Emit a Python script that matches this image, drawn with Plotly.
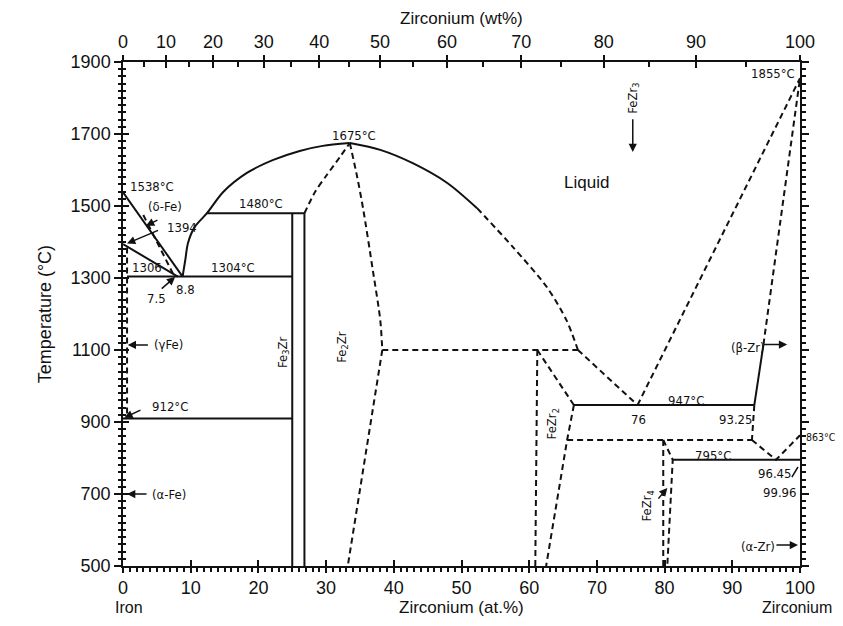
import plotly.graph_objects as go

# ---------------- data (at.% Zr, temperature °C) ----------------
fe_liq_x = [0, 8.8]
fe_liq_t = [1538, 1304]
delta_sol_x = [3.0, 7.6]
delta_sol_t = [1475, 1304]
delta_gamma_x = [0, 8.1]
delta_gamma_t = [1394, 1304]
gamma_x = [0.6, 0.6]
gamma_t = [1385, 912]

liq_left_x = [8.8, 9.2, 9.6, 10.6, 12.4, 14.8, 18.3, 22.2, 26.1, 29.5, 33.5]
liq_left_t = [1304, 1350, 1397, 1442, 1480, 1539, 1592, 1628, 1653, 1667, 1675]
liq_right_x = [33.5, 38.0, 42.8, 47.9, 52.3]
liq_right_t = [1675, 1656, 1619, 1564, 1494]
liq_right_d_x = [52.3, 57.6, 62.6, 65.5, 67.2]
liq_right_d_t = [1494, 1386, 1275, 1183, 1100]
liq_to_eut_x = [67.2, 76]
liq_to_eut_t = [1100, 947]
liq_zr_x = [76, 100]
liq_zr_t = [947, 1855]

iso_1480_x = [12.4, 26.8]
iso_1480_t = [1480, 1480]
iso_1304_x = [0.6, 25.0]
iso_1304_t = [1304, 1304]
iso_912_x = [0, 25.0]
iso_912_t = [910, 910]
fe3zr_a_x = [25.0, 25.0]
fe3zr_a_t = [1480, 500]
fe3zr_b_x = [26.8, 26.8]
fe3zr_b_t = [1480, 500]

fe2zr_left_x = [26.8, 28.4, 30.1, 32.0, 33.5]
fe2zr_left_t = [1480, 1540, 1586, 1635, 1675]
fe2zr_right_x = [33.5, 34.6, 35.5, 36.9, 38.0, 38.3]
fe2zr_right_t = [1675, 1580, 1489, 1322, 1183, 1100]
fe2zr_low_x = [38.3, 33.2]
fe2zr_low_t = [1100, 500]
iso_1100_x = [38.3, 67.2]
iso_1100_t = [1100, 1100]

fezr2_a_x = [61.2, 60.9]
fezr2_a_t = [1100, 500]
fezr2_b_x = [61.2, 66.6]
fezr2_b_t = [1100, 947]
fezr2_c_x = [66.6, 65.6, 62.5]
fezr2_c_t = [947, 850, 500]
iso_947_x = [66.6, 93.25]
iso_947_t = [947, 947]
bzr_solid_x = [93.25, 94.6]
bzr_solid_t = [947, 1115]
bzr_dash_x = [94.6, 100]
bzr_dash_t = [1115, 1855]
bzr_low_x = [93.25, 92.9]
bzr_low_t = [947, 850]
iso_850_x = [65.6, 92.9]
iso_850_t = [850, 850]
eutectoid_x = [92.9, 96.45, 100]
eutectoid_t = [850, 795, 863]
iso_795_x = [81.2, 100]
iso_795_t = [795, 795]
fezr4_a_x = [79.8, 79.8]
fezr4_a_t = [850, 500]
fezr4_b_x = [79.8, 81.2, 80.4]
fezr4_b_t = [850, 795, 500]
slash_x = [98.8, 99.7]
slash_t = [747, 775]

# axis ticks
temp_ticks = [500, 700, 900, 1100, 1300, 1500, 1700, 1900]
at_ticks = [0, 10, 20, 30, 40, 50, 60, 70, 80, 90, 100]
wt_labels = ["0", "10", "20", "30", "40", "50", "60", "70", "80", "90", "100"]
wt_pos = [0, 6.37, 13.28, 20.79, 28.99, 37.98, 47.87, 58.82, 71.0, 84.64, 100]
wt_minor_pos = [3.12, 9.75, 16.95, 24.79, 33.37, 42.80, 53.21, 64.75, 77.63, 92.08]

# labels: (text, x, T, xanchor, angle)
labels = [
    ("1538°C", 0.7, 1553, "left", 0),
    ("(δ-Fe)", 6.2, 1500, "center", 0),
    ("1394", 6.2, 1439, "left", 0),
    ("1306", 1.0, 1328, "left", 0),
    ("1304°C", 16.2, 1328, "center", 0),
    ("1480°C", 20.4, 1508, "center", 0),
    ("8.8", 9.3, 1269, "center", 0),
    ("7.5", 5.0, 1244, "center", 0),
    ("1675°C", 34.1, 1697, "center", 0),
    ("1855°C", 99.6, 1869, "right", 0),
    ("947°C", 83.2, 961, "center", 0),
    ("76", 76.1, 908, "center", 0),
    ("93.25", 90.4, 908, "center", 0),
    ("795°C", 87.1, 808, "center", 0),
    ("96.45", 96.2, 758, "center", 0),
    ("99.96", 96.9, 703, "center", 0),
    ("(β-Zr)", 92.3, 1108, "center", 0),
    ("(α-Zr)", 93.8, 553, "center", 0),
    ("(γFe)", 4.3, 1114, "left", 0),
    ("912°C", 4.0, 942, "left", 0),
    ("(α-Fe)", 4.0, 700, "left", 0),
    ("Fe<sub>3</sub>Zr", 23.6, 1094, "center", -90),
    ("Fe<sub>2</sub>Zr", 32.3, 1108, "center", -90),
    ("FeZr<sub>2</sub>", 63.4, 894, "center", -90),
    ("FeZr<sub>4</sub>", 77.5, 667, "center", -90),
    ("FeZr<sub>3</sub>", 75.3, 1800, "center", -90),
]
# arrows: (head x, head T, tail x, tail T)
arrows = [
    (0.7, 1114, 3.9, 1114),
    (0.2, 912, 2.8, 935),
    (0.6, 700, 3.7, 700),
    (0.6, 1396, 5.4, 1434),
    (3.4, 1445, 5.3, 1463),
    (7.7, 1303, 5.5, 1267),
    (75.3, 1650, 75.3, 1745),
    (98.1, 1115, 94.4, 1115),
    (99.7, 558, 96.3, 558),
    (80.4, 717, 78.9, 683),
]

fig = go.Figure()
DASH = "6px,4px"


def seg(xs, ts, dash=False, smooth=False, width=2):
    fig.add_trace(go.Scatter(
        x=xs, y=ts, mode="lines", showlegend=False, hoverinfo="skip",
        line=dict(color="#111", width=width, dash=DASH if dash else "solid",
                  shape="spline" if smooth else "linear", smoothing=0.8),
        cliponaxis=False))


# solid lines
seg(fe_liq_x, fe_liq_t)
seg(delta_gamma_x, delta_gamma_t)
seg(liq_left_x, liq_left_t, smooth=True)
seg(liq_right_x, liq_right_t, smooth=True)
seg(iso_1480_x, iso_1480_t)
seg(iso_1304_x, iso_1304_t)
seg(iso_912_x, iso_912_t)
seg(fe3zr_a_x, fe3zr_a_t)
seg(fe3zr_b_x, fe3zr_b_t)
seg(iso_947_x, iso_947_t)
seg(bzr_solid_x, bzr_solid_t)
seg(iso_795_x, iso_795_t)
seg(slash_x, slash_t, width=1.5)
# dashed lines
seg(delta_sol_x, delta_sol_t, dash=True)
seg(gamma_x, gamma_t, dash=True)
seg(liq_right_d_x, liq_right_d_t, dash=True, smooth=True)
seg(liq_to_eut_x, liq_to_eut_t, dash=True)
seg(liq_zr_x, liq_zr_t, dash=True)
seg(fe2zr_left_x, fe2zr_left_t, dash=True, smooth=True)
seg(fe2zr_right_x, fe2zr_right_t, dash=True, smooth=True)
seg(fe2zr_low_x, fe2zr_low_t, dash=True)
seg(iso_1100_x, iso_1100_t, dash=True)
seg(fezr2_a_x, fezr2_a_t, dash=True)
seg(fezr2_b_x, fezr2_b_t, dash=True)
seg(fezr2_c_x, fezr2_c_t, dash=True)
seg(bzr_dash_x, bzr_dash_t, dash=True)
seg(bzr_low_x, bzr_low_t, dash=True)
seg(iso_850_x, iso_850_t, dash=True)
seg(eutectoid_x, eutectoid_t, dash=True)
seg(fezr4_a_x, fezr4_a_t, dash=True)
seg(fezr4_b_x, fezr4_b_t, dash=True)

# invisible traces to anchor overlay axes
for xa, ya in [("x2", "y"), ("x3", "y"), ("x4", "y"), ("x", "y2"), ("x", "y3")]:
    fig.add_trace(go.Scatter(x=[None], y=[None], xaxis=xa, yaxis=ya,
                             showlegend=False, hoverinfo="skip"))

LBL = "Liberation Sans Narrow, Arial Narrow, DejaVu Sans Condensed, sans-serif"
AX = "Liberation Sans, Arial, Helvetica, sans-serif"

ann = []
for text, x, t, xa, ang in labels:
    ann.append(dict(x=x, y=t, xref="x", yref="y", text=text, showarrow=False,
                    xanchor=xa, yanchor="middle", textangle=ang,
                    font=dict(family=LBL, size=13, color="#111")))
for hx, ht, tx, tt in arrows:
    ann.append(dict(x=hx, y=ht, ax=tx, ay=tt, xref="x", yref="y", axref="x", ayref="y",
                    text="", showarrow=True, arrowhead=2, arrowsize=1.1, arrowwidth=1.5,
                    arrowcolor="#111"))
ann.append(dict(x=68.5, y=1564, xref="x", yref="y", text="Liquid", showarrow=False,
                xanchor="center", yanchor="middle",
                font=dict(family=AX, size=17, color="#111")))


def pann(text, x, y, size, angle=0, xa="center", family=None):
    ann.append(dict(x=x, y=y, xref="paper", yref="paper", text=text, showarrow=False,
                    xanchor=xa, yanchor="middle", textangle=angle,
                    font=dict(family=family or AX, size=size, color="#111")))


pann("863°C", 1.006, 0.256, 10.5, xa="left", family=LBL)
pann("Zirconium (wt%)", 0.5, 1.087, 17)
pann("Zirconium (at.%)", 0.5, -0.083, 17)
pann("Iron", 0.009, -0.083, 16)
pann("Zirconium", 1.0505, -0.083, 16, xa="right")
pann("Temperature (°C)", -0.115, 0.5, 18, angle=-90)

common = dict(showgrid=False, zeroline=False, tickcolor="#111", tickwidth=1.5, automargin=False)
fig.update_layout(
    width=827, height=610,
    margin=dict(l=115, r=35, t=54, b=52, autoexpand=False),
    plot_bgcolor="white", paper_bgcolor="white",
    annotations=ann,
    xaxis=dict(range=[0, 100], tickvals=at_ticks, ticks="outside", ticklen=5,
               minor=dict(dtick=1, tick0=0, ticks="outside", ticklen=4, tickcolor="#111"),
               showline=True, linecolor="#111", linewidth=1.5, mirror=False,
               tickfont=dict(family=AX, size=18, color="#111"), **common),
    xaxis3=dict(range=[0, 100], overlaying="x", anchor="y", side="bottom",
                tickvals=at_ticks, ticks="inside", ticklen=6, showticklabels=False, **common),
    xaxis2=dict(range=[0, 100], overlaying="x", anchor="y", side="top",
                tickvals=wt_pos, ticktext=wt_labels, ticks="outside", ticklen=5,
                showline=True, linecolor="#111", linewidth=1.5,
                tickfont=dict(family=AX, size=18, color="#111"), **common),
    xaxis4=dict(range=[0, 100], overlaying="x", anchor="y", side="top",
                tickvals=wt_pos, ticks="inside", ticklen=6, showticklabels=False,
                minor=dict(tickvals=wt_minor_pos, ticks="inside", ticklen=5, tickcolor="#111"),
                **common),
    yaxis=dict(range=[500, 1900], tickvals=temp_ticks, ticks="outside", ticklen=7,
               minor=dict(dtick=20, tick0=500, ticks="outside", ticklen=3, tickcolor="#111"),
               showline=True, linecolor="#111", linewidth=1.5,
               tickfont=dict(family=AX, size=18, color="#111"), **common),
    yaxis3=dict(range=[500, 1900], overlaying="y", anchor="x", side="left",
                tickvals=temp_ticks, ticks="inside", ticklen=6, showticklabels=False,
                minor=dict(dtick=20, tick0=500, ticks="inside", ticklen=3, tickcolor="#111"),
                **common),
    yaxis2=dict(range=[500, 1900], overlaying="y", anchor="x", side="right",
                tickvals=temp_ticks, ticks="outside", ticklen=7, showticklabels=False,
                minor=dict(dtick=20, tick0=500, ticks="outside", ticklen=4, tickcolor="#111"),
                showline=True, linecolor="#111", linewidth=1.5, **common),
)

fig.write_html("out.html")
